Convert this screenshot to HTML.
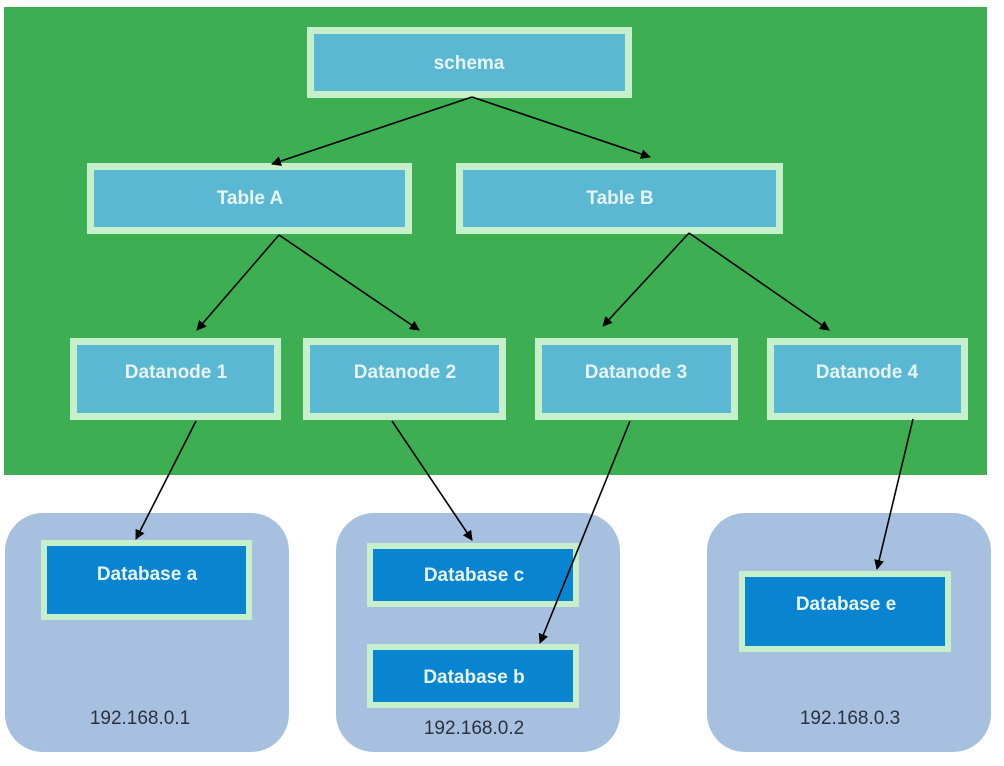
<!DOCTYPE html>
<html><head><meta charset="utf-8"><style>
html,body{margin:0;padding:0;background:#fff;width:1004px;height:766px;overflow:hidden}
svg{display:block}
.n{font-family:"Liberation Sans",sans-serif;font-weight:bold;font-size:19px;fill:#e6f4f4;text-anchor:middle}
.ip{font-family:"Liberation Sans",sans-serif;font-size:19px;fill:#2a3140;text-anchor:middle}
</style></head><body>
<svg width="1004" height="766" viewBox="0 0 1004 766">
<defs><marker id="a" markerWidth="10" markerHeight="10" refX="9" refY="5" orient="auto" markerUnits="userSpaceOnUse"><path d="M0,0 L10,5 L0,10 z" fill="#000"/></marker></defs>
<rect x="4" y="7" width="983" height="468" fill="#3daf52"/>
<g fill="#5ab8d3" stroke="#c6efcc" stroke-width="7">
<rect x="310.5" y="30.5" width="318" height="64"/>
<rect x="90.5" y="166.5" width="318" height="64"/>
<rect x="459.5" y="166.5" width="320" height="64"/>
<rect x="73.5" y="341.5" width="204" height="75"/>
<rect x="306.5" y="341.5" width="196" height="75"/>
<rect x="538.5" y="341.5" width="196" height="75"/>
<rect x="770.5" y="341.5" width="194" height="75"/>
</g>
<g fill="#a8c0df">
<rect x="5" y="513" width="284" height="239" rx="38"/>
<rect x="336" y="513" width="284" height="239" rx="38"/>
<rect x="707" y="513" width="284" height="239" rx="38"/>
</g>
<g fill="#0884d0" stroke="#c6efcc" stroke-width="6">
<rect x="44" y="543" width="205" height="74"/>
<rect x="370" y="546" width="206" height="58"/>
<rect x="370" y="647" width="206" height="58"/>
<rect x="742" y="574" width="206" height="75"/>
</g>
<text class="n" x="469" y="69">schema</text>
<text class="n" x="250" y="204">Table A</text>
<text class="n" x="620" y="204">Table B</text>
<text class="n" x="176" y="378">Datanode 1</text>
<text class="n" x="405" y="378">Datanode 2</text>
<text class="n" x="636" y="378">Datanode 3</text>
<text class="n" x="867" y="378">Datanode 4</text>
<text class="n" x="147" y="580">Database a</text>
<text class="n" x="474" y="581">Database c</text>
<text class="n" x="474" y="683">Database b</text>
<text class="n" x="846" y="610">Database e</text>
<text class="ip" x="140" y="724">192.168.0.1</text>
<text class="ip" x="474" y="734">192.168.0.2</text>
<text class="ip" x="850" y="724">192.168.0.3</text>
<g stroke="#000" stroke-width="1.6" fill="none" marker-end="url(#a)">
<line x1="472" y1="97" x2="272" y2="164"/>
<line x1="472" y1="97" x2="650" y2="157"/>
<line x1="279" y1="235" x2="197" y2="330"/>
<line x1="279" y1="235" x2="419" y2="330"/>
<line x1="689" y1="233" x2="603" y2="326"/>
<line x1="689" y1="233" x2="829" y2="330"/>
<line x1="196" y1="421" x2="136" y2="539"/>
<line x1="392" y1="421" x2="472" y2="540"/>
<line x1="630" y1="421" x2="540" y2="643"/>
<line x1="913" y1="419" x2="877" y2="569"/>
</g>
</svg>
</body></html>
